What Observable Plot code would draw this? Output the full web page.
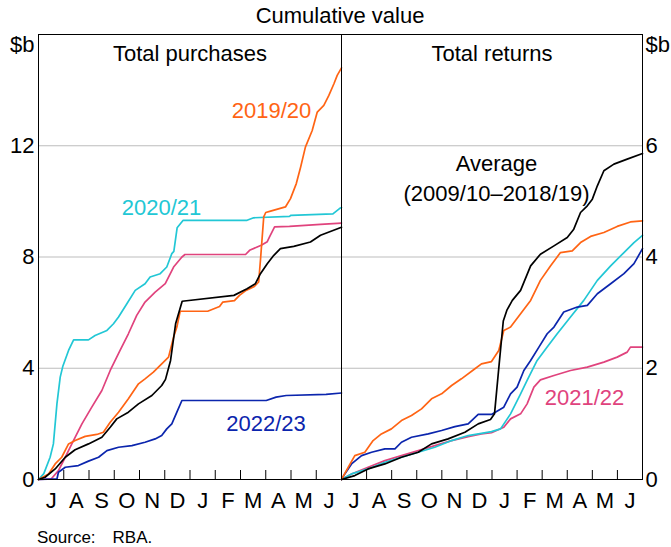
<!DOCTYPE html>
<html>
<head>
<meta charset="utf-8">
<script src="https://cdn.jsdelivr.net/npm/d3@7"></script>
<script src="https://cdn.jsdelivr.net/npm/@observablehq/plot@0.6"></script>
<style>
  body { margin: 0; background: white; }
  #wrap { position: relative; width: 671px; height: 547px; font-family: "Liberation Sans", Arial, sans-serif; color: black; }
  #title { position: absolute; left: 240px; width: 200px; top: 5px; text-align: center; font-size: 22px; line-height: 22px; white-space: nowrap; }
  #left { position: absolute; left: 0; top: 30px; }
  #right { position: absolute; left: 341px; top: 30px; }
  #source { position: absolute; left: 37px; top: 529px; font-size: 17px; line-height: 17px; white-space: nowrap; }
</style>
</head>
<body>
<div id="wrap">
  <div id="title">Cumulative value</div>
  <div id="left"></div>
  <div id="right"></div>
  <div id="source">Source:<span style="margin-left:17px">RBA.</span></div>
</div>
<script>
// Month labels (financial year, July to June) and tick values
const monthLabels = ["J","A","S","O","N","D","J","F","M","A","M","J"];
const purchTicks = [0, 4, 8, 12];
const returnTicks = [0, 2, 4, 6];

// Cumulative purchases, $b  — [months since 1 July, value]
const purch1920 = [[0,0],[0.4,0.2],[0.66,0.56],[0.92,0.8],[1.19,1.28],[1.45,1.4],[1.85,1.55],[2.31,1.62],[2.57,1.7],[2.84,2.06],[3.17,2.42],[3.56,2.9],[3.96,3.44],[4.22,3.62],[4.55,3.86],[4.88,4.16],[5.15,4.4],[5.35,5.12],[5.48,5.48],[5.61,6.05],[6.7,6.05],[7.17,6.22],[7.3,6.38],[7.76,6.43],[7.96,6.62],[8.22,6.8],[8.55,6.94],[8.72,7.1],[8.8,8.0],[8.92,9.44],[9.0,9.6],[9.19,9.65],[9.78,9.8],[9.98,10.1],[10.21,10.64],[10.38,11.23],[10.57,11.95],[10.84,12.55],[11.04,13.21],[11.3,13.45],[11.5,13.81],[11.7,14.23],[11.83,14.53],[12,14.8]];
const purch2021 = [[0,0],[0.21,0.21],[0.46,0.8],[0.59,1.28],[0.73,2.72],[0.86,3.68],[0.96,4.06],[1.19,4.64],[1.39,5.02],[1.98,5.02],[2.24,5.18],[2.71,5.36],[2.97,5.6],[3.17,5.84],[3.5,6.32],[3.83,6.8],[4.22,7.04],[4.42,7.28],[4.82,7.4],[5.08,7.64],[5.28,8.12],[5.36,8.2],[5.49,9.05],[5.73,9.32],[8.26,9.32],[8.52,9.41],[9.94,9.46],[10.0,9.5],[11.66,9.55],[11.92,9.74],[12,9.78]];
const purch2122 = [[0,0],[0.5,0.02],[0.79,0.32],[1.06,0.8],[1.32,1.28],[1.72,2.0],[2.11,2.6],[2.51,3.2],[2.84,3.92],[3.23,4.64],[3.56,5.24],[3.89,5.9],[4.22,6.38],[4.62,6.74],[5.02,7.04],[5.35,7.64],[5.68,8.0],[5.8,8.09],[8.2,8.09],[8.36,8.24],[8.66,8.36],[8.82,8.42],[9.06,8.55],[9.15,8.72],[9.35,9.08],[9.94,9.1],[11.17,9.17],[12,9.22]];
const purch2223 = [[0,0],[0.73,0.02],[0.79,0.26],[1.06,0.44],[1.58,0.5],[1.98,0.66],[2.38,0.8],[2.71,1.04],[3.17,1.16],[3.7,1.22],[4.22,1.34],[4.62,1.46],[4.88,1.58],[5.08,1.82],[5.28,2.0],[5.48,2.42],[5.68,2.84],[9.02,2.84],[9.41,2.96],[9.81,3.02],[11.39,3.06],[12,3.11]];
const purchAvg = [[0,0],[0.26,0.08],[0.66,0.38],[1.06,0.8],[1.45,1.07],[1.98,1.28],[2.51,1.52],[2.84,1.88],[3.1,2.18],[3.56,2.42],[3.96,2.72],[4.49,3.02],[4.88,3.38],[5.03,3.6],[5.23,4.28],[5.43,5.6],[5.69,6.41],[7.74,6.62],[8.26,6.86],[8.59,7.04],[8.79,7.4],[9.06,7.76],[9.32,8.06],[9.58,8.3],[10.11,8.38],[10.77,8.54],[11.17,8.78],[12,9.07]];

// Cumulative returns, $b
const ret1920 = [[0,0],[0.27,0.22],[0.53,0.43],[0.93,0.49],[1.26,0.7],[1.59,0.82],[1.99,0.91],[2.39,1.06],[2.79,1.15],[3.19,1.27],[3.59,1.45],[3.99,1.54],[4.39,1.69],[4.78,1.81],[5.32,1.99],[5.58,2.08],[5.98,2.12],[6.27,2.32],[6.47,2.68],[6.74,2.74],[7.14,2.98],[7.54,3.22],[7.93,3.58],[8.33,3.84],[8.73,4.08],[9.2,4.11],[9.53,4.26],[9.93,4.37],[10.46,4.44],[10.99,4.55],[11.52,4.63],[12,4.65]];
const ret2021 = [[0,0],[0.4,0.1],[1.06,0.19],[1.73,0.31],[2.39,0.4],[3.06,0.49],[3.72,0.58],[4.39,0.7],[5.05,0.79],[5.58,0.83],[5.98,0.86],[6.34,0.91],[6.74,1.18],[7.14,1.54],[7.4,1.78],[7.8,2.14],[8.2,2.38],[8.6,2.62],[9.13,2.92],[9.66,3.22],[10.2,3.58],[10.73,3.84],[11.26,4.08],[11.66,4.26],[12,4.39]];
const ret2122 = [[0,0],[0.4,0.1],[1.06,0.22],[1.73,0.34],[2.39,0.43],[3.06,0.52],[3.72,0.61],[4.39,0.7],[5.05,0.77],[5.58,0.82],[5.98,0.84],[6.47,0.94],[6.74,1.09],[7.14,1.18],[7.4,1.36],[7.67,1.66],[7.93,1.79],[8.47,1.87],[9.13,1.96],[9.8,2.02],[10.46,2.11],[10.99,2.2],[11.39,2.29],[11.52,2.38],[12,2.38]];
const ret2223 = [[0,0],[0.13,0.1],[0.4,0.28],[0.8,0.43],[1.2,0.49],[1.73,0.55],[2.13,0.55],[2.39,0.67],[2.79,0.76],[3.46,0.82],[3.99,0.88],[4.52,0.95],[5.05,1.0],[5.45,1.17],[5.98,1.17],[6.47,1.3],[6.74,1.54],[7.0,1.66],[7.27,1.96],[7.54,2.14],[7.87,2.38],[8.2,2.62],[8.47,2.74],[8.86,3.01],[9.4,3.1],[9.8,3.13],[10.2,3.34],[10.73,3.52],[11.26,3.7],[11.66,3.88],[12,4.15]];
const retAvg = [[0,0],[0.53,0.07],[1.06,0.19],[1.73,0.28],[2.39,0.4],[3.06,0.49],[3.59,0.64],[4.25,0.73],[4.92,0.85],[5.45,1.0],[5.94,1.08],[6.1,1.18],[6.27,2.0],[6.45,2.85],[6.6,3.05],[6.81,3.22],[7.14,3.4],[7.54,3.84],[7.93,4.05],[8.47,4.2],[9.0,4.35],[9.26,4.5],[9.53,4.8],[9.8,4.92],[10.0,5.04],[10.2,5.28],[10.46,5.55],[10.86,5.67],[11.39,5.76],[12,5.86]];

const COLORS = {
  "2019/20": "#ff6414",
  "2020/21": "#22c7d5",
  "2021/22": "#e0437d",
  "2022/23": "#0b25ad",
  "Average": "#000000"
};

const FONT = '"Liberation Sans", Arial, sans-serif';
const monthMids = monthLabels.map((_, i) => i + 0.5);
const monthBounds = d3.range(1, 12);

function lineMarks(series) {
  return series.map(([name, pts]) =>
    Plot.line(pts, {x: d => d[0], y: d => d[1], stroke: COLORS[name], strokeWidth: 1.7}));
}

function panel({side, yMax, ticks, title, series, labels, width, marginLeft, marginRight}) {
  return Plot.plot({
    width, height: 487,
    marginTop: 4, marginBottom: 38, marginLeft, marginRight,
    style: {fontFamily: FONT, fontSize: "22px", background: "transparent", overflow: "visible"},
    x: {domain: [0, 12]},
    y: {domain: [0, yMax]},
    marks: [
      Plot.ruleY(ticks.filter(t => t > 0), {stroke: "#bdbdbd", strokeWidth: 1.2}),
      ...lineMarks(series),
      Plot.frame({stroke: "black", strokeWidth: 1}),
      Plot.tickX(monthBounds, {x: d => d, insetTop: 436, stroke: "black", strokeWidth: 1}),
      Plot.axisX({ticks: monthMids, tickFormat: d => monthLabels[Math.floor(d)], tickSize: 0, tickPadding: 13, label: null, fontSize: 22}),
      Plot.axisY({anchor: side, ticks, tickSize: 0, tickPadding: side === "left" ? 4 : 3, label: null, fontSize: 22}),
      Plot.text(["$b"], {frameAnchor: side === "left" ? "top-left" : "top-right", textAnchor: side === "left" ? "end" : "start", lineAnchor: "top", dx: side === "left" ? -4 : 3, dy: 2, fontSize: 22}),
      Plot.text([title], {frameAnchor: "top", lineAnchor: "top", dy: 11, fontSize: 22}),
      Plot.text(labels, {x: "x", y: "y", text: "text", fill: d => COLORS[d.key], fontSize: 22, lineHeight: 1.38, textAnchor: "middle", lineAnchor: "middle"})
    ]
  });
}

const purchLabels = [
  {key: "2019/20", text: "2019/20", x: 9.23, y: 13.36},
  {key: "2020/21", text: "2020/21", x: 4.87, y: 9.86},
  {key: "2022/23", text: "2022/23", x: 9.01, y: 2.10}
];
const returnLabels = [
  {key: "Average", text: "Average\n(2009/10–2018/19)", x: 6.18, y: 5.45},
  {key: "2021/22", text: "2021/22", x: 9.69, y: 1.52}
];

document.getElementById("left").append(panel({
  side: "left", yMax: 16, ticks: purchTicks, title: "Total purchases",
  width: 342, marginLeft: 38, marginRight: 1,
  series: [["2020/21", purch2021], ["2021/22", purch2122], ["2022/23", purch2223], ["2019/20", purch1920], ["Average", purchAvg]],
  labels: purchLabels
}));
document.getElementById("right").append(panel({
  side: "right", yMax: 8, ticks: returnTicks, title: "Total returns",
  width: 330, marginLeft: 0, marginRight: 29,
  series: [["2021/22", ret2122], ["2020/21", ret2021], ["2022/23", ret2223], ["2019/20", ret1920], ["Average", retAvg]],
  labels: returnLabels
}));
</script>
</body>
</html>
